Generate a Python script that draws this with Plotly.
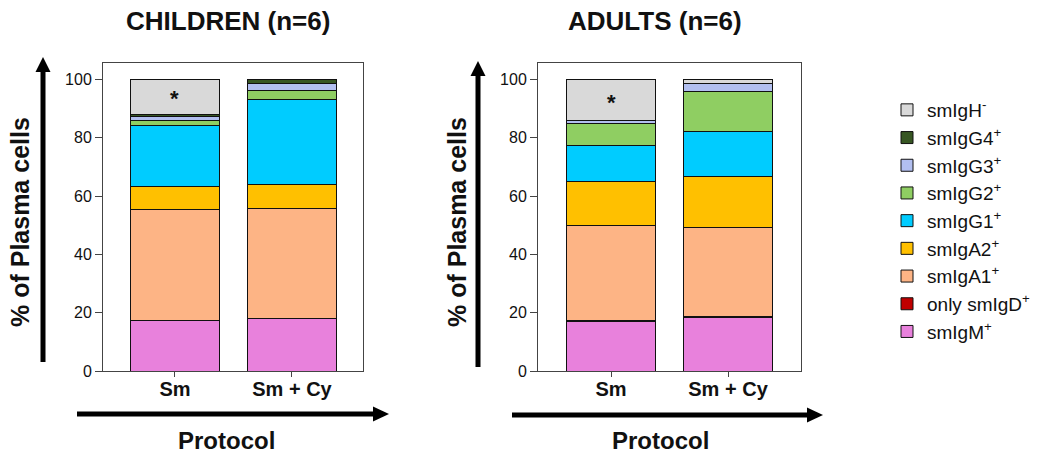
import plotly.graph_objects as go

# ---------------- data ----------------
categories = ["Sm", "Sm + Cy"]
series_names = ["smIgM<sup>+</sup>", "only smIgD<sup>+</sup>", "smIgA1<sup>+</sup>", "smIgA2<sup>+</sup>",
                "smIgG1<sup>+</sup>", "smIgG2<sup>+</sup>", "smIgG3<sup>+</sup>", "smIgG4<sup>+</sup>",
                "smIgH<sup>-</sup>"]
series_colors = ["#E881DC", "#C00000", "#FDB485", "#FFC000", "#00CCFF", "#8FCE62", "#B2BFF0", "#375623", "#D9D9D9"]

children_smIgM = [17.3, 18.1]
children_smIgD = [0.0, 0.0]
children_smIgA1 = [38.0, 37.5]
children_smIgA2 = [8.0, 8.3]
children_smIgG1 = [20.8, 29.3]
children_smIgG2 = [2.0, 3.2]
children_smIgG3 = [1.2, 2.4]
children_smIgG4 = [0.6, 1.2]
children_smIgH = [12.1, 0.0]

adults_smIgM = [16.9, 18.5]
adults_smIgD = [0.5, 0.1]
adults_smIgA1 = [32.4, 30.6]
adults_smIgA2 = [15.4, 17.7]
adults_smIgG1 = [12.1, 15.2]
adults_smIgG2 = [7.7, 13.8]
adults_smIgG3 = [1.1, 2.6]
adults_smIgG4 = [0.0, 0.0]
adults_smIgH = [13.9, 1.5]

children = [children_smIgM, children_smIgD, children_smIgA1, children_smIgA2, children_smIgG1,
            children_smIgG2, children_smIgG3, children_smIgG4, children_smIgH]
adults = [adults_smIgM, adults_smIgD, adults_smIgA1, adults_smIgA2, adults_smIgG1,
          adults_smIgG2, adults_smIgG3, adults_smIgG4, adults_smIgH]

y_ticks = [0, 20, 40, 60, 80, 100]

# ---------------- figure ----------------
W, H = 1037, 462
REF_H = 453
FONT = "Liberation Sans, Arial, sans-serif"


def X(px):
    return px / W


def Y(py):
    return 1 - py / REF_H


fig = go.Figure()
n = len(series_names)
for i, (name, color, cv, av) in enumerate(zip(series_names, series_colors, children, adults)):
    fig.add_trace(go.Bar(x=categories, y=cv, name=name, marker_color=color,
                         marker_line_color="#111111", marker_line_width=1,
                         legendgroup=name, legendrank=n - i, showlegend=True, xaxis="x", yaxis="y"))
    fig.add_trace(go.Bar(x=categories, y=av, name=name, marker_color=color,
                         marker_line_color="#111111", marker_line_width=1,
                         legendgroup=name, legendrank=n - i, showlegend=False, xaxis="x2", yaxis="y2"))

axis_common = dict(showline=True, linecolor="#444444", linewidth=1, mirror=True,
                   showgrid=False, zeroline=False, ticks="outside", tickcolor="#444444")

ydom = [Y(371), Y(63)]
xtickfont = dict(size=20, family=FONT, weight="bold", color="#111111")
ytickfont = dict(size=16, family=FONT, color="#111111")
fig.update_layout(
    width=W, height=H,
    margin=dict(l=0, r=0, t=0, b=0),
    paper_bgcolor="white", plot_bgcolor="white",
    barmode="stack", bargap=0.24,
    font=dict(family=FONT, color="#111111"),
    xaxis=dict(domain=[X(103), X(363)], range=[-0.615, 1.607], anchor="y", ticklen=5,
               ticklabelstandoff=-5, tickfont=xtickfont, **axis_common),
    yaxis=dict(domain=ydom, range=[0, 105.7], anchor="x", tickvals=y_ticks, ticklen=7,
               tickfont=ytickfont, **axis_common),
    xaxis2=dict(domain=[X(538), X(801)], range=[-0.624, 1.624], anchor="y2", ticklen=5,
                ticklabelstandoff=-5, tickfont=xtickfont, **axis_common),
    yaxis2=dict(domain=ydom, range=[0, 105.7], anchor="x2", tickvals=y_ticks, ticklen=7,
                tickfont=ytickfont, **axis_common),
    legend=dict(x=X(887), y=Y(91), xanchor="left", yanchor="top",
                traceorder="grouped", tracegroupgap=0,
                font=dict(size=19, family=FONT, color="#111111"),
                bgcolor="rgba(0,0,0,0)"),
    showlegend=True,
)

# ---------------- arrows ----------------
shapes = []


def arrow_v(x, y_bottom, y_tip):
    shapes.append(dict(type="line", xref="paper", yref="paper", x0=X(x), x1=X(x),
                       y0=Y(y_bottom), y1=Y(y_tip + 12), line=dict(color="black", width=5)))
    shapes.append(dict(type="path", xref="paper", yref="paper",
                       path=f"M {X(x)},{Y(y_tip)} L {X(x - 7.5)},{Y(y_tip + 15)} L {X(x + 7.5)},{Y(y_tip + 15)} Z",
                       fillcolor="black", line=dict(color="black", width=0)))


def arrow_h(x_left, x_tip, y):
    shapes.append(dict(type="line", xref="paper", yref="paper", x0=X(x_left), x1=X(x_tip - 12),
                       y0=Y(y), y1=Y(y), line=dict(color="black", width=5)))
    shapes.append(dict(type="path", xref="paper", yref="paper",
                       path=f"M {X(x_tip)},{Y(y)} L {X(x_tip - 16)},{Y(y - 7.5)} L {X(x_tip - 16)},{Y(y + 7.5)} Z",
                       fillcolor="black", line=dict(color="black", width=0)))


arrow_v(43, 362, 57)
arrow_h(77, 389, 414)
arrow_v(478, 367, 61)
arrow_h(512, 823, 415)
fig.update_layout(shapes=shapes)

# ---------------- text ----------------
annotations = [
    dict(text="<b>CHILDREN (n=6)</b>", x=X(228), y=Y(21), font=dict(size=26)),
    dict(text="<b>ADULTS (n=6)</b>", x=X(655), y=Y(21), font=dict(size=26)),
    dict(text="<b>% of Plasma cells</b>", x=X(20), y=Y(222), textangle=-90, font=dict(size=25)),
    dict(text="<b>% of Plasma cells</b>", x=X(457), y=Y(222), textangle=-90, font=dict(size=25)),
    dict(text="<b>Protocol</b>", x=X(226), y=Y(440), font=dict(size=24)),
    dict(text="<b>Protocol</b>", x=X(660), y=Y(440), font=dict(size=24)),
]
for a in annotations:
    a.update(xref="paper", yref="paper", showarrow=False, xanchor="center", yanchor="middle")
    a["font"].update(family=FONT, color="#111111")

annotations.append(dict(text="<b>*</b>", x=categories[0], y=93.5, xref="x", yref="y",
                        showarrow=False, font=dict(size=22, family=FONT, color="#111111"),
                        yanchor="middle"))
annotations.append(dict(text="<b>*</b>", x=categories[0], y=92.0, xref="x2", yref="y2",
                        showarrow=False, font=dict(size=22, family=FONT, color="#111111"),
                        yanchor="middle"))
fig.update_layout(annotations=annotations)

post = ("document.documentElement.style.margin='0px';"
        "document.documentElement.style.overflow='hidden';"
        "document.body.style.margin='0px';"
        "document.body.style.padding='0px';"
        "document.body.style.overflow='hidden';")
fig.write_html("out.html", post_script=post, config={"displayModeBar": False})
